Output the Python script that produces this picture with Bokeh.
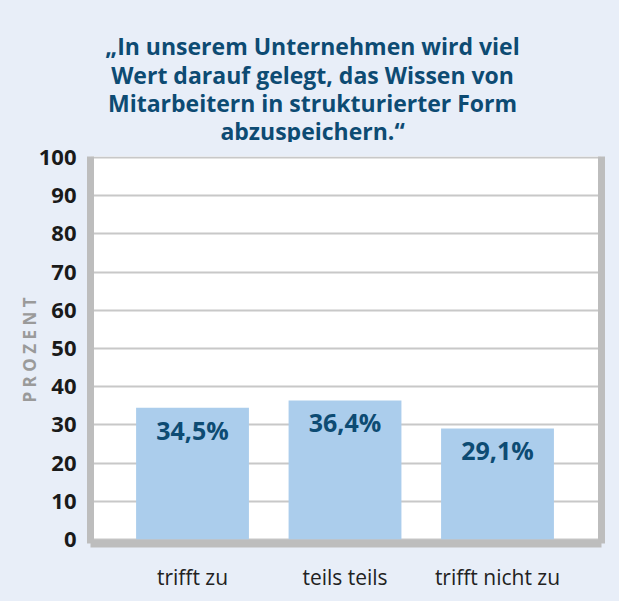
from bokeh.plotting import figure
from bokeh.layouts import column
from bokeh.models import ColumnDataSource, FixedTicker, LinearAxis, Range1d
from bokeh.core.properties import value
from bokeh.embed import file_html
from bokeh.resources import INLINE

categories = ["trifft zu", "teils teils", "trifft nicht zu"]
values = [34.5, 36.4, 29.1]
value_labels = ["34,5%", "36,4%", "29,1%"]
y_ticks = [0, 10, 20, 30, 40, 50, 60, 70, 80, 90, 100]
title_lines = [
    "\u201eIn unserem Unternehmen wird viel",
    "Wert darauf gelegt, das Wissen von",
    "Mitarbeitern in strukturierter Form",
    "abzuspeichern.\u201c",
]

BG = "#e8eef8"
BAR = "#abcdec"
DARK = "#0d4b73"
FRAME = "#bdbdbd"
GRID = "#c8c8c8"
FONT = "Open Sans"
W = 611
TOP_H = 142

xs = list(range(len(categories)))
xr = Range1d(-0.669, 2.682)

# ---- title strip (own figure; frame aligned with the chart's frame) ----
pt = figure(width=W, height=TOP_H, output_backend="svg", toolbar_location=None,
            x_range=xr, y_range=Range1d(TOP_H, 0),
            min_border_left=90, min_border_right=10, min_border_top=0, min_border_bottom=0)
pt.axis.visible = False
pt.grid.grid_line_color = None
pt.outline_line_color = None
pt.background_fill_color = None
pt.border_fill_color = BG
title_src = ColumnDataSource(dict(t=title_lines, x=[0.787] * 4, y=[45, 74, 102.5, 130]))
pt.text(x="x", y="y", text="t", source=title_src, text_align="center",
        text_baseline="alphabetic", text_font=value(FONT), text_font_style="bold",
        text_font_size="23px", text_color=DARK)

# ---- chart ----
src = ColumnDataSource(dict(x=xs, top=values, lab=value_labels))

p = figure(width=W, height=593 - TOP_H, output_backend="svg", toolbar_location=None,
           x_range=xr, y_range=Range1d(-1.03, 100.26),
           min_border_left=90, min_border_right=10, min_border_top=156 - TOP_H,
           min_border_bottom=45)
p.background_fill_color = "white"
p.border_fill_color = BG
p.outline_line_color = None

p.vbar(x="x", top="top", bottom=0, width=0.74, source=src, fill_color=BAR, line_color=None)
p.text(x="x", y="top", text="lab", source=src, text_align="center", text_baseline="top",
       y_offset=5, text_font=value(FONT), text_font_style="bold", text_font_size="25px",
       text_color=DARK)

# y axis
ya = p.yaxis[0]
ya.ticker = FixedTicker(ticks=y_ticks)
ya.axis_line_color = FRAME
ya.axis_line_width = 7
ya.major_tick_line_color = None
ya.minor_tick_line_color = None
ya.major_label_text_font = FONT
ya.major_label_text_font_style = "bold"
ya.major_label_text_font_size = "22px"
ya.major_label_text_color = "#1a1a1a"
ya.major_label_standoff = 8
ya.axis_label = "P R O Z E N T"
ya.axis_label_text_font = FONT
ya.axis_label_text_font_style = "bold"
ya.axis_label_text_font_size = "17px"
ya.axis_label_text_color = "#9a9a9a"
ya.axis_label_standoff = -5

# x axis
xa = p.xaxis[0]
xa.ticker = FixedTicker(ticks=xs)
xa.major_label_overrides = {i: c for i, c in enumerate(categories)}
xa.axis_line_color = FRAME
xa.axis_line_width = 8
xa.major_tick_line_color = None
xa.minor_tick_line_color = None
xa.major_label_text_font = FONT
xa.major_label_text_font_size = "21px"
xa.major_label_text_color = "#222222"
xa.major_label_standoff = 13

# right frame
ra = LinearAxis(major_label_text_font_size="0px", major_tick_line_color=None,
                minor_tick_line_color=None, axis_line_color=FRAME, axis_line_width=7,
                ticker=FixedTicker(ticks=[]))
p.add_layout(ra, "right")

p.xgrid.grid_line_color = None
p.ygrid.ticker = FixedTicker(ticks=y_ticks)
p.ygrid.grid_line_color = GRID
p.ygrid.grid_line_width = 2

layout = column(pt, p, spacing=0)
html = file_html(layout, INLINE)
html = html.replace("</head>", "<style>body{background:%s;}</style></head>" % BG, 1)
open("out.html", "w").write(html)
